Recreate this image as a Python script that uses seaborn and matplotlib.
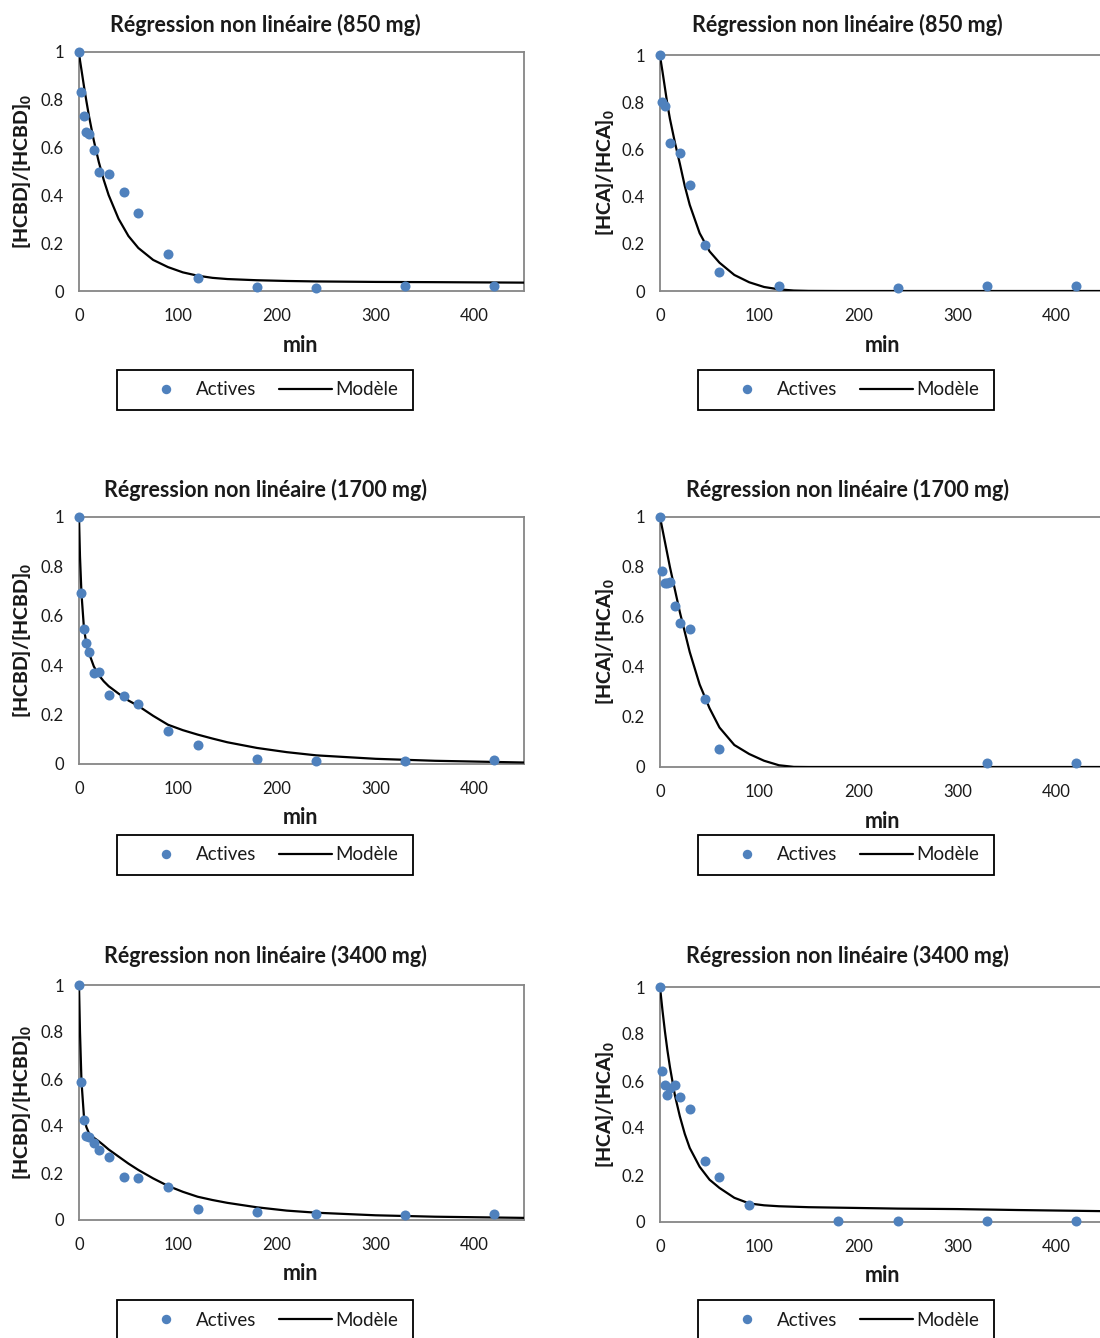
import numpy as np
import pandas as pd
import matplotlib
matplotlib.use("Agg")
import matplotlib.pyplot as plt
from matplotlib.lines import Line2D
from matplotlib.patches import Rectangle
import seaborn as sns

# ---------------- data ----------------
t_full = [0, 2.5, 5, 7.5, 10, 15, 20, 30, 45, 60, 90, 120, 180, 240, 330, 420]

t_hcbd_850 = t_full
y_hcbd_850 = [1.0, 0.831, 0.731, 0.664, 0.657, 0.592, 0.497, 0.489, 0.414, 0.327,
              0.155, 0.054, 0.017, 0.013, 0.020, 0.020]

t_hca_850 = [0, 2.5, 5, 10, 20, 30, 45, 60, 120, 240, 330, 420]
y_hca_850 = [1.0, 0.800, 0.785, 0.626, 0.585, 0.450, 0.195, 0.080, 0.021, 0.013, 0.021, 0.021]

t_hcbd_1700 = t_full
y_hcbd_1700 = [1.0, 0.691, 0.548, 0.490, 0.452, 0.368, 0.371, 0.279, 0.277, 0.243,
               0.135, 0.076, 0.019, 0.013, 0.013, 0.017]

t_hca_1700 = [0, 2.5, 5, 7.5, 10, 15, 20, 30, 45, 60, 330, 420]
y_hca_1700 = [1.0, 0.782, 0.734, 0.734, 0.739, 0.642, 0.574, 0.553, 0.270, 0.070, 0.015, 0.015]

t_hcbd_3400 = t_full
y_hcbd_3400 = [1.0, 0.587, 0.427, 0.359, 0.352, 0.326, 0.298, 0.270, 0.184, 0.180,
               0.139, 0.045, 0.033, 0.026, 0.021, 0.026]

t_hca_3400 = [0, 2.5, 5, 7.5, 10, 15, 20, 30, 45, 60, 90, 180, 240, 330, 420]
y_hca_3400 = [1.0, 0.642, 0.582, 0.541, 0.569, 0.582, 0.532, 0.482, 0.260, 0.193,
              0.074, 0.003, 0.003, 0.003, 0.003]

# model curves
t_model = [0, 1, 2.5, 5, 7.5, 10, 15, 20, 25, 30, 40, 50, 60, 75, 90, 105, 120,
           135, 150, 180, 210, 240, 300, 360, 450]
m_hcbd_850 = [1.0, 0.965, 0.925, 0.857, 0.794, 0.734, 0.629, 0.540, 0.465, 0.401,
              0.302, 0.230, 0.180, 0.130, 0.100, 0.078, 0.064, 0.055, 0.050, 0.045,
              0.042, 0.040, 0.038, 0.037, 0.035]
m_hca_850 = [1.0, 0.97, 0.93, 0.86, 0.79, 0.73, 0.63, 0.54, 0.445, 0.365,
             0.245, 0.168, 0.120, 0.068, 0.037, 0.017, 0.007, 0.002, 0.0005, 0.0,
             0.0, 0.0, 0.0, 0.0, 0.0]
m_hcbd_1700 = [1.0, 0.84, 0.69, 0.55, 0.485, 0.45, 0.395, 0.36, 0.335, 0.315,
               0.285, 0.257, 0.235, 0.195, 0.159, 0.137, 0.119, 0.103, 0.088, 0.065,
               0.048, 0.035, 0.021, 0.013, 0.006]
m_hca_1700 = [1.0, 0.98, 0.95, 0.90, 0.85, 0.80, 0.71, 0.62, 0.54, 0.46,
              0.33, 0.235, 0.158, 0.088, 0.052, 0.025, 0.007, 0.0005, 0.0, 0.0,
              0.0, 0.0, 0.0, 0.0, 0.0]
m_hcbd_3400 = [1.0, 0.80, 0.59, 0.44, 0.395, 0.37, 0.35, 0.335, 0.318, 0.300,
               0.270, 0.240, 0.213, 0.177, 0.145, 0.120, 0.099, 0.085, 0.073, 0.054,
               0.040, 0.031, 0.020, 0.014, 0.009]
m_hca_3400 = [1.0, 0.96, 0.90, 0.81, 0.73, 0.66, 0.54, 0.45, 0.375, 0.315,
              0.235, 0.180, 0.145, 0.103, 0.079, 0.071, 0.067, 0.065, 0.063, 0.061,
              0.059, 0.057, 0.055, 0.051, 0.046]

titles = ["Régression non linéaire (850 mg)", "Régression non linéaire (850 mg)",
          "Régression non linéaire (1700 mg)", "Régression non linéaire (1700 mg)",
          "Régression non linéaire (3400 mg)", "Régression non linéaire (3400 mg)"]
ylabels = [r"$\mathbf{[HCBD]/[HCBD]_{0}}$", r"$\mathbf{[HCA]/[HCA]_{0}}$"] * 3
legend_labels = ["Actives", "Modèle"]
x_ticks = [0, 100, 200, 300, 400]
y_ticks = [0, 0.2, 0.4, 0.6, 0.8, 1]

# ---------------- style ----------------
sns.set_theme(style="white")
FONT = "Lato"
plt.rcParams["font.family"] = [FONT, "DejaVu Sans"]
plt.rcParams["mathtext.fontset"] = "custom"
plt.rcParams["mathtext.rm"] = FONT + ":black"
plt.rcParams["mathtext.bf"] = FONT + ":black"
plt.rcParams["mathtext.it"] = FONT + ":italic"

BLUE = "#4F81BD"
GRAY = "#868686"
TXT = "#1a1a1a"

W, H = 1100, 1338
fig = plt.figure(figsize=(W / 100, H / 100), dpi=100)
fig.patch.set_facecolor("white")

# axes boxes in pixel coordinates: left, top, right, bottom
boxes = [(79, 52, 524, 291), (660, 55, 1106, 291),
         (79, 517, 524, 764), (660, 517, 1106, 767),
         (79, 985, 524, 1220), (660, 987, 1106, 1222)]
title_pos = [(265, 25), (847, 25), (265, 490), (847, 490), (265, 956), (847, 956)]
xlabel_pos = [(301, 345), (883, 345), (301, 818), (883, 821), (301, 1273), (883, 1275)]
legend_pos = [(265, 390), (846, 390), (265, 855), (846, 855), (265, 1320), (846, 1320)]
ylabel_right = [33, 616]

points = [(t_hcbd_850, y_hcbd_850), (t_hca_850, y_hca_850),
          (t_hcbd_1700, y_hcbd_1700), (t_hca_1700, y_hca_1700),
          (t_hcbd_3400, y_hcbd_3400), (t_hca_3400, y_hca_3400)]
models = [m_hcbd_850, m_hca_850, m_hcbd_1700, m_hca_1700, m_hcbd_3400, m_hca_3400]

for i in range(6):
    l, t, r, b = boxes[i]
    ax = fig.add_axes([l / W, 1 - b / H, (r - l) / W, (b - t) / H])
    ax.set_facecolor("white")
    mdf = pd.DataFrame({"t": t_model, "y": models[i]})
    pdf = pd.DataFrame({"t": points[i][0], "y": points[i][1]})
    sns.lineplot(data=mdf, x="t", y="y", ax=ax, color="black", linewidth=1.6,
                 zorder=3, estimator=None, sort=False)
    sns.scatterplot(data=pdf, x="t", y="y", ax=ax, color=BLUE, s=52, linewidth=0,
                    zorder=5, clip_on=False)
    ax.set_xlim(0, 450)
    ax.set_ylim(0, 1)
    ax.set_xticks(x_ticks)
    ax.set_yticks(y_ticks)
    ax.set_yticklabels([f"{v:g}" for v in y_ticks])
    ax.set_xticklabels([str(v) for v in x_ticks])
    for s in ax.spines.values():
        s.set_color(GRAY)
        s.set_linewidth(1.3)
        s.set_visible(True)
    ax.tick_params(axis="both", direction="inout", length=5, width=1.2, color=GRAY,
                   labelsize=12, labelcolor=TXT)
    ax.tick_params(axis="y", pad=8.5)
    ax.tick_params(axis="x", pad=10)
    ax.set_xlabel("")
    ax.set_ylabel(ylabels[i], fontsize=14, color=TXT)
    ax.yaxis.set_label_coords(-(l - ylabel_right[i % 2]) / (r - l), 0.5)

    fig.text(title_pos[i][0] / W, 1 - title_pos[i][1] / H, titles[i], ha="center",
             va="center", fontsize=15.5, fontweight="bold", color=TXT)
    fig.text(xlabel_pos[i][0] / W, 1 - xlabel_pos[i][1] / H, "min", ha="center",
             va="center", fontsize=15.5, fontweight="bold", color=TXT)

    cx, cy = legend_pos[i]
    bw, bh = 296, 40
    fig.patches.append(Rectangle(((cx - bw / 2) / W, 1 - (cy + bh / 2) / H), bw / W, bh / H,
                                 transform=fig.transFigure, fill=False,
                                 edgecolor="black", linewidth=1.3, zorder=10))
    handles = [Line2D([], [], marker="o", color=BLUE, linestyle="none", markersize=6.8,
                      markeredgewidth=0),
               Line2D([], [], color="black", linewidth=1.6)]
    fig.legend(handles, legend_labels, loc="center",
               bbox_to_anchor=(cx / W + 4 / W, 1 - cy / H), ncol=2, frameon=False,
               fontsize=13.5, handlelength=2.8, handletextpad=0.2, columnspacing=1.2,
               labelcolor=TXT)

fig.savefig("out.png", dpi=100, facecolor="white")
